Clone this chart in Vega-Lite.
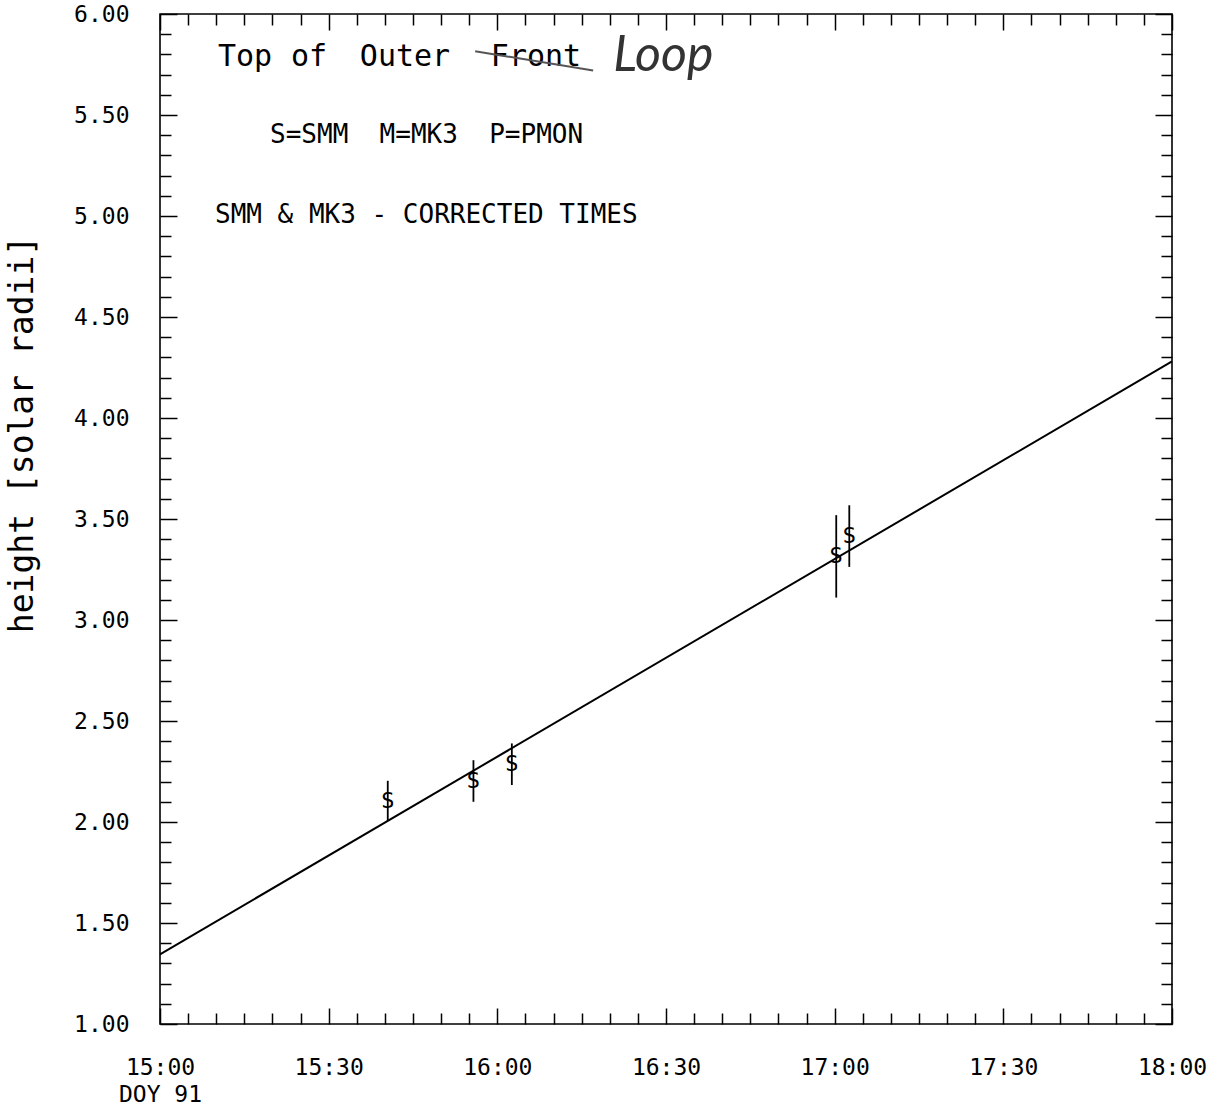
{
  "$schema": "https://vega.github.io/schema/vega-lite/v6.json",
  "width": 1012,
  "height": 1010,
  "autosize": {"type": "none"},
  "padding": {"left": 160, "top": 14, "right": 48, "bottom": 85},
  "background": "white",
  "config": {
    "view": {"stroke": "black", "strokeWidth": 1.6},
    "axis": {
      "domain": false,
      "grid": false,
      "tickColor": "black",
      "tickWidth": 1.5,
      "labelFont": "DejaVu Sans Mono",
      "labelFontSize": 23,
      "labelColor": "black",
      "labelFlush": false,
      "labelOverlap": false,
      "labelBound": false
    }
  },
  "datasets": {
    "fit": [
      {"minutes_after_1500": 0, "height": 1.345},
      {"minutes_after_1500": 180, "height": 4.28}
    ],
    "obs": [
      {"minutes_after_1500": 40.51, "height": 2.103, "lo": 2.005, "hi": 2.204, "instrument": "S"},
      {"minutes_after_1500": 55.75, "height": 2.203, "lo": 2.100, "hi": 2.306, "instrument": "S"},
      {"minutes_after_1500": 62.58, "height": 2.286, "lo": 2.183, "hi": 2.389, "instrument": "S"},
      {"minutes_after_1500": 120.28, "height": 3.316, "lo": 3.111, "hi": 3.519, "instrument": "S"},
      {"minutes_after_1500": 122.6, "height": 3.416, "lo": 3.263, "hi": 3.568, "instrument": "S"}
    ],
    "title_words": [
      {"word": "Top", "minutes_after_1500": 15.12, "height": 5.745},
      {"word": "of", "minutes_after_1500": 26.5, "height": 5.745},
      {"word": "Outer", "minutes_after_1500": 43.58, "height": 5.745},
      {"word": "Front", "minutes_after_1500": 66.88, "height": 5.745}
    ],
    "notes": [
      {"note": "S=SMM\u00a0\u00a0M=MK3\u00a0\u00a0P=PMON", "minutes_after_1500": 19.57, "height": 5.362},
      {"note": "SMM & MK3 - CORRECTED TIMES", "minutes_after_1500": 9.78, "height": 4.963}
    ],
    "handwriting": [
      {"note": "Loop", "minutes_after_1500": 80.6, "height": 5.72}
    ],
    "strike": [
      {"minutes_after_1500": 56.05, "minutes_end": 77.04, "height": 5.816, "height_end": 5.72}
    ]
  },
  "resolve": {"axis": {"x": "independent", "y": "independent"}},
  "layer": [
    {
      "data": {"name": "fit"},
      "mark": {"type": "line", "color": "black", "strokeWidth": 2},
      "encoding": {
        "x": {
          "field": "minutes_after_1500", "type": "quantitative",
          "scale": {"domain": [0, 180], "nice": false, "zero": false},
          "axis": {
            "orient": "bottom",
            "title": "DOY 91",
            "titleFont": "DejaVu Sans Mono",
            "titleFontSize": 23,
            "titleFontWeight": "normal",
            "titleColor": "black",
            "titleX": 0,
            "titleY": 59,
            "titleAlign": "center",
            "titleBaseline": "top",
            "values": [0, 5, 10, 15, 20, 25, 30, 35, 40, 45, 50, 55, 60, 65, 70, 75, 80, 85, 90, 95, 100, 105, 110, 115, 120, 125, 130, 135, 140, 145, 150, 155, 160, 165, 170, 175, 180],
            "tickSize": {"condition": {"test": "datum.value % 30 === 0", "value": -16}, "value": -11},
            "labelPadding": 48,
            "labelAlign": "center",
            "labelBaseline": "top",
            "labelExpr": "datum.value % 30 === 0 ? (format(15 + floor(datum.value / 60), 'd') + ':' + (datum.value % 60 === 0 ? '00' : '30')) : ''"
          }
        },
        "y": {
          "field": "height", "type": "quantitative",
          "scale": {"domain": [1, 6], "nice": false, "zero": false},
          "axis": {
            "orient": "left",
            "values": [1, 1.1, 1.2, 1.3, 1.4, 1.5, 1.6, 1.7, 1.8, 1.9, 2, 2.1, 2.2, 2.3, 2.4, 2.5, 2.6, 2.7, 2.8, 2.9, 3, 3.1, 3.2, 3.3, 3.4, 3.5, 3.6, 3.7, 3.8, 3.9, 4, 4.1, 4.2, 4.3, 4.4, 4.5, 4.6, 4.7, 4.8, 4.9, 5, 5.1, 5.2, 5.3, 5.4, 5.5, 5.6, 5.7, 5.8, 5.9, 6],
            "tickSize": {"condition": {"test": "abs(datum.value * 2 - round(datum.value * 2)) < 0.001", "value": -17}, "value": -11},
            "labelPadding": 48,
            "labelAlign": "right",
            "labelBaseline": "middle",
            "labelExpr": "abs(datum.value * 2 - round(datum.value * 2)) < 0.001 ? format(datum.value, '.2f') : ''",
            "title": "height [solar radii]",
            "titleFont": "DejaVu Sans Mono",
            "titleFontSize": 33,
            "titleFontWeight": "normal",
            "titleColor": "black",
            "titleAngle": -90,
            "titleX": -128,
            "titleY": 420,
            "titleAlign": "center",
            "titleBaseline": "alphabetic"
          }
        }
      }
    },
    {
      "data": {"name": "obs"},
      "mark": {"type": "rule", "color": "black", "strokeWidth": 1.8},
      "encoding": {
        "x": {
          "field": "minutes_after_1500", "type": "quantitative",
          "scale": {"domain": [0, 180], "nice": false, "zero": false},
          "axis": {
            "orient": "top",
            "title": null,
            "labels": false,
            "values": [0, 5, 10, 15, 20, 25, 30, 35, 40, 45, 50, 55, 60, 65, 70, 75, 80, 85, 90, 95, 100, 105, 110, 115, 120, 125, 130, 135, 140, 145, 150, 155, 160, 165, 170, 175, 180],
            "tickSize": {"condition": {"test": "datum.value % 30 === 0", "value": -16}, "value": -11}
          }
        },
        "y": {
          "field": "lo", "type": "quantitative",
          "scale": {"domain": [1, 6], "nice": false, "zero": false},
          "axis": {
            "orient": "right",
            "title": null,
            "labels": false,
            "values": [1, 1.1, 1.2, 1.3, 1.4, 1.5, 1.6, 1.7, 1.8, 1.9, 2, 2.1, 2.2, 2.3, 2.4, 2.5, 2.6, 2.7, 2.8, 2.9, 3, 3.1, 3.2, 3.3, 3.4, 3.5, 3.6, 3.7, 3.8, 3.9, 4, 4.1, 4.2, 4.3, 4.4, 4.5, 4.6, 4.7, 4.8, 4.9, 5, 5.1, 5.2, 5.3, 5.4, 5.5, 5.6, 5.7, 5.8, 5.9, 6],
            "tickSize": {"condition": {"test": "abs(datum.value * 2 - round(datum.value * 2)) < 0.001", "value": -17}, "value": -11}
          }
        },
        "y2": {"field": "hi"}
      }
    },
    {
      "data": {"name": "obs"},
      "mark": {"type": "text", "font": "DejaVu Sans Mono", "fontSize": 22, "align": "center", "baseline": "middle", "color": "black"},
      "encoding": {
        "x": {"field": "minutes_after_1500", "type": "quantitative", "axis": null},
        "y": {"field": "height", "type": "quantitative", "axis": null},
        "text": {"field": "instrument"}
      }
    },
    {
      "data": {"name": "title_words"},
      "mark": {"type": "text", "font": "DejaVu Sans Mono", "fontSize": 30, "align": "center", "baseline": "alphabetic", "color": "black"},
      "encoding": {
        "x": {"field": "minutes_after_1500", "type": "quantitative", "axis": null},
        "y": {"field": "height", "type": "quantitative", "axis": null},
        "text": {"field": "word"}
      }
    },
    {
      "data": {"name": "notes"},
      "mark": {"type": "text", "font": "DejaVu Sans Mono", "fontSize": 26, "align": "left", "baseline": "alphabetic", "color": "black"},
      "encoding": {
        "x": {"field": "minutes_after_1500", "type": "quantitative", "axis": null},
        "y": {"field": "height", "type": "quantitative", "axis": null},
        "text": {"field": "note"}
      }
    },
    {
      "data": {"name": "handwriting"},
      "mark": {"type": "text", "font": "Lato", "fontStyle": "italic", "fontSize": 50, "align": "left", "baseline": "alphabetic", "color": "#333333"},
      "encoding": {
        "x": {"field": "minutes_after_1500", "type": "quantitative", "axis": null},
        "y": {"field": "height", "type": "quantitative", "axis": null},
        "text": {"field": "note"}
      }
    },
    {
      "data": {"name": "strike"},
      "mark": {"type": "rule", "color": "#555555", "strokeWidth": 2},
      "encoding": {
        "x": {"field": "minutes_after_1500", "type": "quantitative", "axis": null},
        "x2": {"field": "minutes_end"},
        "y": {"field": "height", "type": "quantitative", "axis": null},
        "y2": {"field": "height_end"}
      }
    }
  ]
}
